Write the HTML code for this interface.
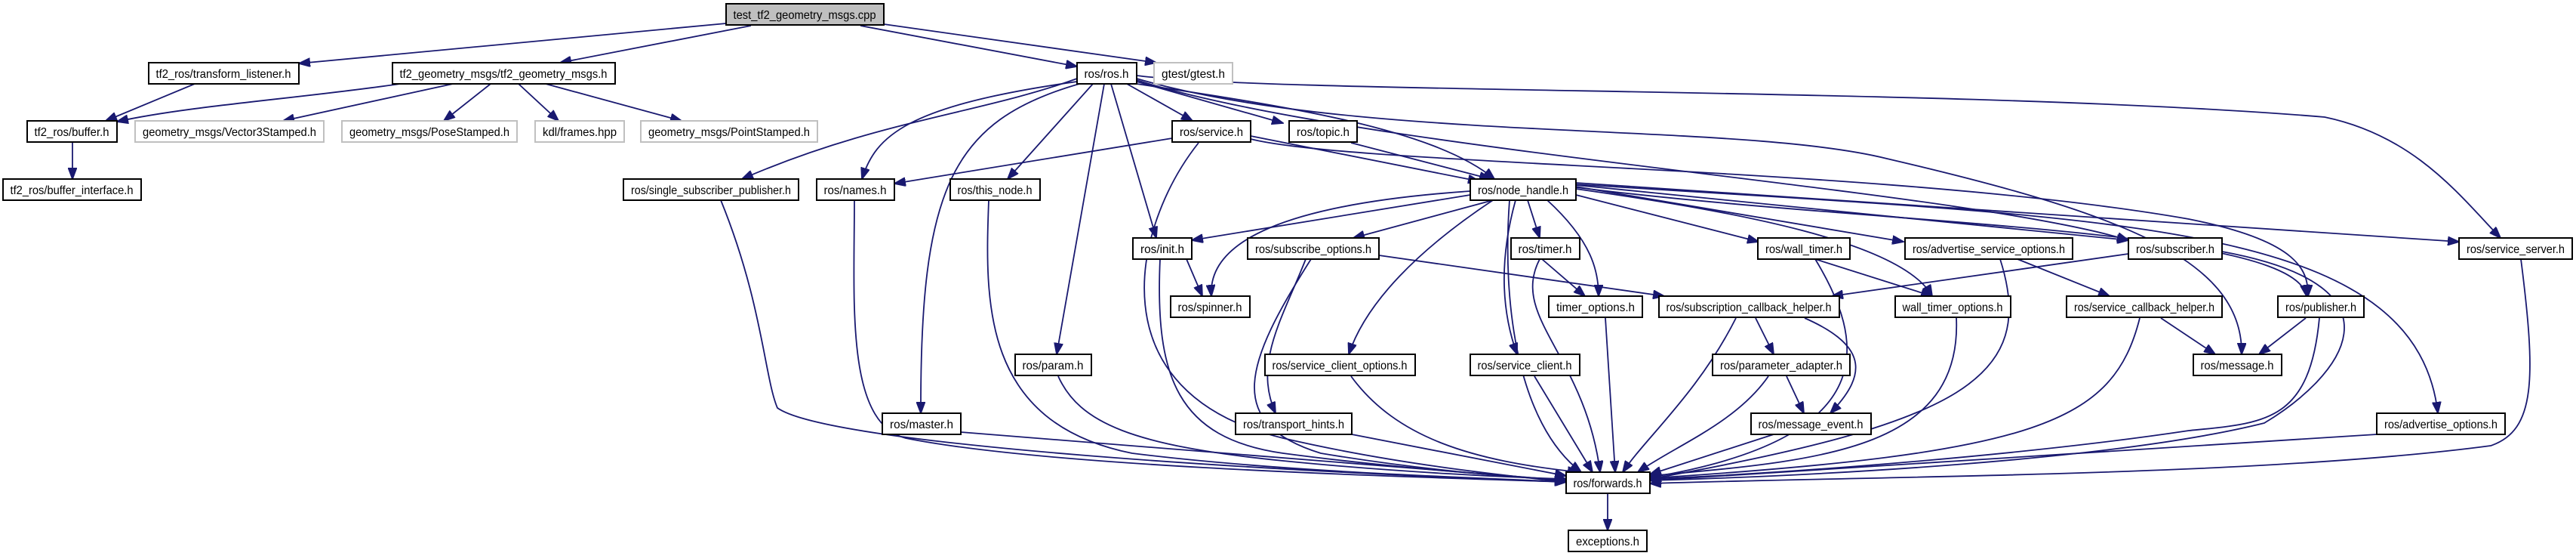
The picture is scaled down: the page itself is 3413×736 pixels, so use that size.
<!DOCTYPE html>
<html><head><meta charset="utf-8"><style>
html,body{margin:0;padding:0;background:#fff;width:3413px;height:736px;overflow:hidden}
svg text{font-family:"Liberation Sans",sans-serif;font-size:16px;fill:#000}
.n{fill:#fff;stroke:#000;stroke-width:2}
.g{fill:#fff;stroke:#c0c0c0;stroke-width:2}
.e{fill:none;stroke:#191970;stroke-width:1.8;marker-end:url(#a)}
</style></head><body>
<svg width="3413" height="736" viewBox="0 0 3413 736" xmlns="http://www.w3.org/2000/svg">
<defs><marker id="a" markerUnits="userSpaceOnUse" markerWidth="16" markerHeight="12" refX="15" refY="6" orient="auto"><path d="M0,0 L16,6 L0,12 z" fill="#191970" stroke="#191970"/></marker></defs>
<g>
<path class="e" d="M962 31 L396 84"/>
<path class="e" d="M995 34 L742 83"/>
<path class="e" d="M1140 34 L1427 88"/>
<path class="e" d="M1171 32 L1532 83"/>
<path class="e" d="M258 111 L140 160"/>
<path class="e" d="M530 111 C400 130 250 140 155 161"/>
<path class="e" d="M600 111 L375 160"/>
<path class="e" d="M650 111 L588 160"/>
<path class="e" d="M687 111 L740 160"/>
<path class="e" d="M723 111 L903 160"/>
<path class="e" d="M96 189 L96 237"/>
<path class="e" d="M1427 104 C1300 150 1160 160 983 237"/>
<path class="e" d="M1427 108 C1200 140 1160 180 1142 237"/>
<path class="e" d="M1448 111 L1335 237"/>
<path class="e" d="M1430 111 C1260 160 1219 250 1220 547"/>
<path class="e" d="M1463 111 L1400 469"/>
<path class="e" d="M1472 111 L1532 315"/>
<path class="e" d="M1493 111 L1580 160"/>
<path class="e" d="M1506 108 L1700 163"/>
<path class="e" d="M1506 111 C1700 140 1900 170 1980 237"/>
<path class="e" d="M1506 100 C1700 125 2600 115 3080 155 C3200 180 3260 260 3313 315"/>
<path class="e" d="M1506 104 C1800 190 2300 160 2500 210 C2800 280 2972 340 2970 469"/>
<path class="e" d="M1506 106 C1800 200 2600 250 2820 318"/>
<path class="e" d="M1553 183 L1185 243"/>
<path class="e" d="M1588 189 C1500 300 1450 520 1700 580 C1850 615 2000 630 2075 638"/>
<path class="e" d="M1657 180 L1960 240"/>
<path class="e" d="M1657 184 C1800 220 2500 220 2900 290 C3050 320 3058 360 3058 392"/>
<path class="e" d="M1790 189 L1975 237"/>
<path class="e" d="M1948 258 L1579 318"/>
<path class="e" d="M1948 253 C1700 270 1600 320 1605 392"/>
<path class="e" d="M1978 265 L1793 315"/>
<path class="e" d="M1978 265 C1880 330 1810 400 1787 469"/>
<path class="e" d="M2008 265 C1990 330 1985 400 2010 469"/>
<path class="e" d="M2000 265 C1990 400 2010 560 2095 625"/>
<path class="e" d="M2024 265 L2040 315"/>
<path class="e" d="M2050 265 C2110 320 2118 360 2118 392"/>
<path class="e" d="M2088 258 L2330 320"/>
<path class="e" d="M2088 250 C2300 280 2520 320 2560 392"/>
<path class="e" d="M2088 247 L2522 320"/>
<path class="e" d="M2088 245 L2820 318"/>
<path class="e" d="M2088 242 L3258 320"/>
<path class="e" d="M2088 248 C2500 300 3040 300 3056 392"/>
<path class="e" d="M2088 244 C2800 290 3200 290 3230 547"/>
<path class="e" d="M1572 343 L1593 392"/>
<path class="e" d="M1537 343 C1530 500 1560 580 1700 600 C1850 620 2000 630 2075 636"/>
<path class="e" d="M1730 343 C1700 420 1660 480 1690 547"/>
<path class="e" d="M1737 343 C1650 480 1620 560 1750 600 C1900 625 2020 632 2075 636"/>
<path class="e" d="M1827 338 L2205 392"/>
<path class="e" d="M2043 343 L2100 392"/>
<path class="e" d="M2040 343 C2000 420 2100 470 2120 625"/>
<path class="e" d="M2405 343 L2560 392"/>
<path class="e" d="M2405 343 C2470 450 2500 580 2186 632"/>
<path class="e" d="M2673 343 L2795 392"/>
<path class="e" d="M2650 343 C2700 500 2600 560 2186 634"/>
<path class="e" d="M2820 336 L2427 392"/>
<path class="e" d="M2944 333 C3200 380 3100 500 3000 560 C2800 610 2400 630 2186 636"/>
<path class="e" d="M3340 343 C3360 500 3360 570 3300 590 C3000 630 2500 630 2186 640"/>
<path class="e" d="M2127 421 L2140 625"/>
<path class="e" d="M2326 421 L2350 469"/>
<path class="e" d="M2391 421 C2480 460 2470 500 2425 547"/>
<path class="e" d="M2300 421 C2250 520 2180 580 2150 625"/>
<path class="e" d="M2592 421 C2600 600 2400 610 2186 630"/>
<path class="e" d="M2835 421 C2800 560 2700 600 2186 633"/>
<path class="e" d="M2863 421 L2935 469"/>
<path class="e" d="M3055 421 L2993 469"/>
<path class="e" d="M3073 421 C3060 560 3000 560 2900 570 C2700 600 2400 625 2186 634"/>
<path class="e" d="M2367 498 L2390 547"/>
<path class="e" d="M2343 498 C2300 560 2220 590 2170 625"/>
<path class="e" d="M2350 575 L2186 628"/>
<path class="e" d="M3149 575 L2186 636"/>
<path class="e" d="M1402 498 C1430 560 1500 590 1700 610 C1850 625 2000 632 2075 634"/>
<path class="e" d="M1790 498 C1850 580 1950 610 2092 625"/>
<path class="e" d="M2033 498 L2110 625"/>
<path class="e" d="M1791 575 L2075 630"/>
<path class="e" d="M1273 572 L2075 636"/>
<path class="e" d="M1310 265 C1305 400 1300 560 1500 600 C1700 625 1950 632 2075 638"/>
<path class="e" d="M1132 265 C1132 400 1120 560 1200 580 C1400 620 1900 632 2075 638"/>
<path class="e" d="M955 265 C1010 400 1013 500 1030 540 C1100 590 1700 625 2075 638"/>
<path class="e" d="M2130 653 L2130 702"/>
</g>
<g>
<rect x="962" y="5" width="209" height="28" fill="#bfbfbf" stroke="#000" stroke-width="2"/><text x="1066" y="25" text-anchor="middle" textLength="189" lengthAdjust="spacingAndGlyphs">test_tf2_geometry_msgs.cpp</text>
<rect class="n" x="197" y="83" width="199" height="28"/><text x="296" y="103" text-anchor="middle" textLength="179" lengthAdjust="spacingAndGlyphs">tf2_ros/transform_listener.h</text>
<rect class="n" x="520" y="83" width="295" height="28"/><text x="667" y="103" text-anchor="middle" textLength="275" lengthAdjust="spacingAndGlyphs">tf2_geometry_msgs/tf2_geometry_msgs.h</text>
<rect class="n" x="1427" y="83" width="79" height="28"/><text x="1466" y="103" text-anchor="middle" textLength="59" lengthAdjust="spacingAndGlyphs">ros/ros.h</text>
<rect class="g" x="1529" y="83" width="104" height="28"/><text x="1581" y="103" text-anchor="middle" textLength="84" lengthAdjust="spacingAndGlyphs">gtest/gtest.h</text>
<rect class="n" x="36" y="160" width="119" height="28"/><text x="95" y="180" text-anchor="middle" textLength="99" lengthAdjust="spacingAndGlyphs">tf2_ros/buffer.h</text>
<rect class="g" x="179" y="160" width="250" height="28"/><text x="304" y="180" text-anchor="middle" textLength="230" lengthAdjust="spacingAndGlyphs">geometry_msgs/Vector3Stamped.h</text>
<rect class="g" x="453" y="160" width="232" height="28"/><text x="569" y="180" text-anchor="middle" textLength="212" lengthAdjust="spacingAndGlyphs">geometry_msgs/PoseStamped.h</text>
<rect class="g" x="709" y="160" width="118" height="28"/><text x="768" y="180" text-anchor="middle" textLength="98" lengthAdjust="spacingAndGlyphs">kdl/frames.hpp</text>
<rect class="g" x="849" y="160" width="234" height="28"/><text x="966" y="180" text-anchor="middle" textLength="214" lengthAdjust="spacingAndGlyphs">geometry_msgs/PointStamped.h</text>
<rect class="n" x="1553" y="160" width="104" height="28"/><text x="1605" y="180" text-anchor="middle" textLength="84" lengthAdjust="spacingAndGlyphs">ros/service.h</text>
<rect class="n" x="1708" y="160" width="90" height="28"/><text x="1753" y="180" text-anchor="middle" textLength="70" lengthAdjust="spacingAndGlyphs">ros/topic.h</text>
<rect class="n" x="4" y="237" width="183" height="28"/><text x="95" y="257" text-anchor="middle" textLength="163" lengthAdjust="spacingAndGlyphs">tf2_ros/buffer_interface.h</text>
<rect class="n" x="826" y="237" width="232" height="28"/><text x="942" y="257" text-anchor="middle" textLength="212" lengthAdjust="spacingAndGlyphs">ros/single_subscriber_publisher.h</text>
<rect class="n" x="1082" y="237" width="103" height="28"/><text x="1133" y="257" text-anchor="middle" textLength="83" lengthAdjust="spacingAndGlyphs">ros/names.h</text>
<rect class="n" x="1259" y="237" width="119" height="28"/><text x="1318" y="257" text-anchor="middle" textLength="99" lengthAdjust="spacingAndGlyphs">ros/this_node.h</text>
<rect class="n" x="1948" y="237" width="140" height="28"/><text x="2018" y="257" text-anchor="middle" textLength="120" lengthAdjust="spacingAndGlyphs">ros/node_handle.h</text>
<rect class="n" x="1501" y="315" width="78" height="28"/><text x="1540" y="335" text-anchor="middle" textLength="58" lengthAdjust="spacingAndGlyphs">ros/init.h</text>
<rect class="n" x="1653" y="315" width="174" height="28"/><text x="1740" y="335" text-anchor="middle" textLength="154" lengthAdjust="spacingAndGlyphs">ros/subscribe_options.h</text>
<rect class="n" x="2002" y="315" width="91" height="28"/><text x="2047" y="335" text-anchor="middle" textLength="71" lengthAdjust="spacingAndGlyphs">ros/timer.h</text>
<rect class="n" x="2329" y="315" width="122" height="28"/><text x="2390" y="335" text-anchor="middle" textLength="102" lengthAdjust="spacingAndGlyphs">ros/wall_timer.h</text>
<rect class="n" x="2524" y="315" width="222" height="28"/><text x="2635" y="335" text-anchor="middle" textLength="202" lengthAdjust="spacingAndGlyphs">ros/advertise_service_options.h</text>
<rect class="n" x="2820" y="315" width="124" height="28"/><text x="2882" y="335" text-anchor="middle" textLength="104" lengthAdjust="spacingAndGlyphs">ros/subscriber.h</text>
<rect class="n" x="3258" y="315" width="150" height="28"/><text x="3333" y="335" text-anchor="middle" textLength="130" lengthAdjust="spacingAndGlyphs">ros/service_server.h</text>
<rect class="n" x="1551" y="392" width="105" height="28"/><text x="1603" y="412" text-anchor="middle" textLength="85" lengthAdjust="spacingAndGlyphs">ros/spinner.h</text>
<rect class="n" x="2052" y="392" width="124" height="28"/><text x="2114" y="412" text-anchor="middle" textLength="104" lengthAdjust="spacingAndGlyphs">timer_options.h</text>
<rect class="n" x="2198" y="392" width="239" height="28"/><text x="2317" y="412" text-anchor="middle" textLength="219" lengthAdjust="spacingAndGlyphs">ros/subscription_callback_helper.h</text>
<rect class="n" x="2511" y="392" width="153" height="28"/><text x="2587" y="412" text-anchor="middle" textLength="133" lengthAdjust="spacingAndGlyphs">wall_timer_options.h</text>
<rect class="n" x="2738" y="392" width="206" height="28"/><text x="2841" y="412" text-anchor="middle" textLength="186" lengthAdjust="spacingAndGlyphs">ros/service_callback_helper.h</text>
<rect class="n" x="3018" y="392" width="114" height="28"/><text x="3075" y="412" text-anchor="middle" textLength="94" lengthAdjust="spacingAndGlyphs">ros/publisher.h</text>
<rect class="n" x="1345" y="469" width="101" height="28"/><text x="1395" y="489" text-anchor="middle" textLength="81" lengthAdjust="spacingAndGlyphs">ros/param.h</text>
<rect class="n" x="1676" y="469" width="199" height="28"/><text x="1775" y="489" text-anchor="middle" textLength="179" lengthAdjust="spacingAndGlyphs">ros/service_client_options.h</text>
<rect class="n" x="1948" y="469" width="145" height="28"/><text x="2020" y="489" text-anchor="middle" textLength="125" lengthAdjust="spacingAndGlyphs">ros/service_client.h</text>
<rect class="n" x="2269" y="469" width="182" height="28"/><text x="2360" y="489" text-anchor="middle" textLength="162" lengthAdjust="spacingAndGlyphs">ros/parameter_adapter.h</text>
<rect class="n" x="2906" y="469" width="117" height="28"/><text x="2964" y="489" text-anchor="middle" textLength="97" lengthAdjust="spacingAndGlyphs">ros/message.h</text>
<rect class="n" x="1169" y="547" width="104" height="28"/><text x="1221" y="567" text-anchor="middle" textLength="84" lengthAdjust="spacingAndGlyphs">ros/master.h</text>
<rect class="n" x="1637" y="547" width="154" height="28"/><text x="1714" y="567" text-anchor="middle" textLength="134" lengthAdjust="spacingAndGlyphs">ros/transport_hints.h</text>
<rect class="n" x="2320" y="547" width="159" height="28"/><text x="2399" y="567" text-anchor="middle" textLength="139" lengthAdjust="spacingAndGlyphs">ros/message_event.h</text>
<rect class="n" x="3149" y="547" width="170" height="28"/><text x="3234" y="567" text-anchor="middle" textLength="150" lengthAdjust="spacingAndGlyphs">ros/advertise_options.h</text>
<rect class="n" x="2075" y="625" width="111" height="28"/><text x="2130" y="645" text-anchor="middle" textLength="91" lengthAdjust="spacingAndGlyphs">ros/forwards.h</text>
<rect class="n" x="2078" y="702" width="104" height="28"/><text x="2130" y="722" text-anchor="middle" textLength="84" lengthAdjust="spacingAndGlyphs">exceptions.h</text>
</g>
</svg>
</body></html>
